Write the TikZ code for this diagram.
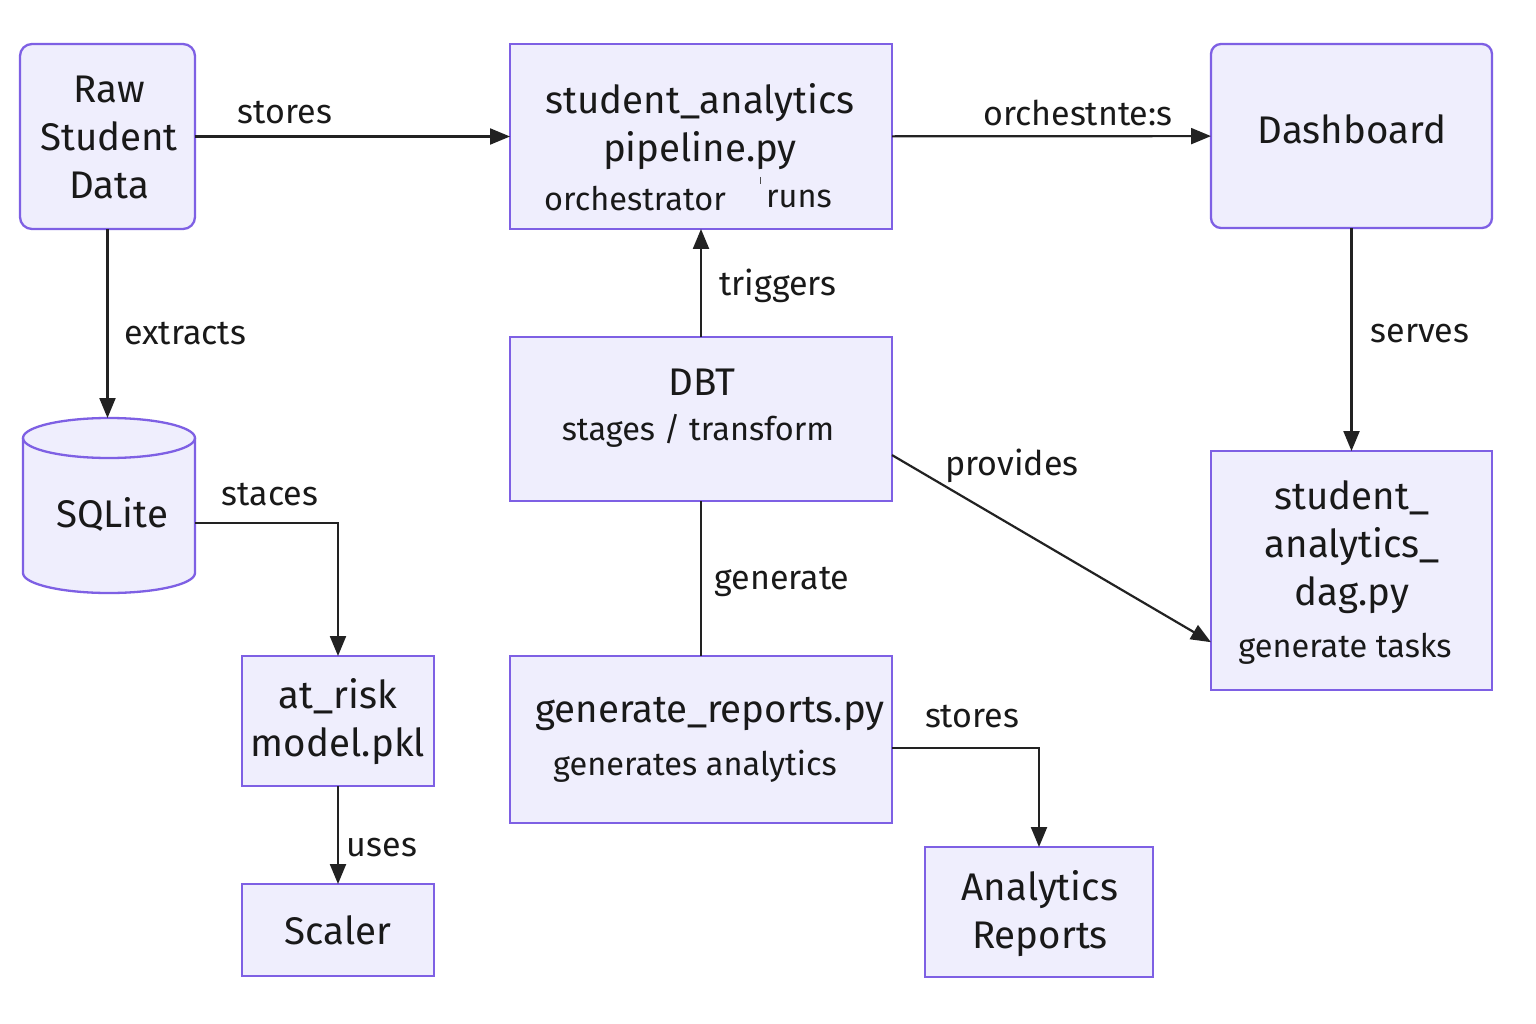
\documentclass[tikz,border=0pt]{standalone}
\usepackage{fontspec}
\setmainfont{Fira Sans}
\usetikzlibrary{arrows.meta,calc}
\definecolor{boxfill}{HTML}{EFEEFD}
\definecolor{boxline}{HTML}{7E60E4}
\definecolor{edgecol}{HTML}{222222}
\begin{document}
\begin{tikzpicture}[x=1pt,y=-1pt,
  box/.style={draw=boxline, fill=boxfill, line width=2.3pt, inner sep=0pt, outer sep=0pt},
  maintext/.style={font=\fontsize{38.5}{48}\selectfont, align=center, inner sep=0pt, text=black!90},
  subtext/.style={font=\fontsize{32.5}{38}\selectfont, align=center, inner sep=0pt, text=black!90},
  elabel/.style={font=\fontsize{34}{40}\selectfont, inner sep=0pt, text=black!90},
  conn/.style={draw=edgecol, line width=2.2pt},
  arr/.style={conn, -{Triangle[length=20pt,width=16pt]}}
]
\useasboundingbox (0,0) rectangle (1536,1024);
\fill[white] (0,0) rectangle (1536,1024);

% boxes
\node[box, rounded corners=12pt, minimum width=175pt, minimum height=185pt] (raw) at (107.5,136.5) {};
\node[box, minimum width=382pt, minimum height=185pt] (pipe) at (701,136.5) {};
\node[box, rounded corners=10pt, minimum width=281pt, minimum height=184pt] (dash) at (1351.5,136) {};
\node[box, minimum width=382pt, minimum height=164pt] (dbt) at (701,419) {};
\node[box, minimum width=281pt, minimum height=239pt] (dag) at (1351.5,570.5) {};
\node[box, minimum width=192pt, minimum height=130pt] (atr) at (338,721) {};
\node[box, minimum width=192pt, minimum height=92pt] (scaler) at (338,930) {};
\node[box, minimum width=382pt, minimum height=167pt] (gen) at (701,739.5) {};
\node[box, minimum width=228pt, minimum height=130pt] (ana) at (1039,912) {};

% cylinder
\draw[draw=boxline, fill=boxfill, line width=2.3pt]
  (23,438) -- (23,573) .. controls (23,584) and (61.5,593) .. (109,593)
  .. controls (156.5,593) and (195,584) .. (195,573) -- (195,438)
  .. controls (195,427) and (156.5,418) .. (109,418)
  .. controls (61.5,418) and (23,427) .. (23,438) -- cycle;
\draw[draw=boxline, line width=2.3pt]
  (23,438) .. controls (23,449) and (61.5,458) .. (109,458)
  .. controls (156.5,458) and (195,449) .. (195,438);
\node[inner sep=0pt, outer sep=0pt, minimum width=172pt, minimum height=175pt] (sql) at (109,505.5) {};

% texts
\node[maintext] (rawt) at (109,137) {Raw\\Student\\Data};
\node[maintext] (pipet) at (700,127) {student\_analytics\\pipeline.py};
\node[subtext] (pipes1) at (635,199) {orchestrator};
\node[subtext] (pipes2) at (799,199) {runs};
\draw[line width=1pt, black!70] (760,177) -- (760,184);
\node[maintext] (dasht) at (1352,129) {Dashboard};
\node[maintext] (sqlt) at (112,514) {SQLite};
\node[maintext] (dbtt) at (702,382) {DBT};
\node[subtext] (dbts) at (698,431) {stages / transform};
\node[maintext] (dagt) at (1352,547) {student\_\\analytics\_\\dag.py};
\node[subtext] (dags) at (1345,649) {generate tasks};
\node[maintext] (atrt) at (338,722) {at\_risk\\model.pkl};
\node[maintext] (scalert) at (338,930) {Scaler};
\node[maintext] (gent) at (710,714) {generate\_reports.py};
\node[subtext] (gens) at (695,766) {generates analytics};
\node[maintext] (anat) at (1040,914) {Analytics\\Reports};

% connectors
\draw[arr] (raw) -- (pipe);
\draw[arr] (pipe) -- (dash);
\draw[arr] (raw.south) -- (raw.south |- sql.north);
\draw[arr] (dbt.north) -- (pipe.south);
\draw[arr] (dash.south) -- (dag.north);
\draw[arr] ($(dbt.north east)!0.72!(dbt.south east)$) -- ($(dag.north west)!0.8!(dag.south west)$);
\draw[arr] ($(sql.north east)!0.6!(sql.south east)$) -| (atr.north);
\draw[conn] (dbt.south) -- (gen.north);
\draw[arr] (atr.south) -- (scaler.north);
\draw[arr] ($(gen.north east)!0.55!(gen.south east)$) -| (ana.north);

% edge labels
\node[elabel] (l1) at (285,113) {stores};
\node[elabel] (l2) at (1078,113) {orchestnte:s};
\node[elabel] (l3) at (185,334) {extracts};
\node[elabel] (l4) at (778,286) {triggers};
\node[elabel] (l5) at (1420,334) {serves};
\node[elabel] (l6) at (1012,466) {provides};
\node[elabel] (l7) at (270,495) {staces};
\node[elabel] (l8) at (782,582) {generate};
\node[elabel] (l9) at (382,848) {uses};
\node[elabel] (l10) at (972,717) {stores};
\end{tikzpicture}
\end{document}
